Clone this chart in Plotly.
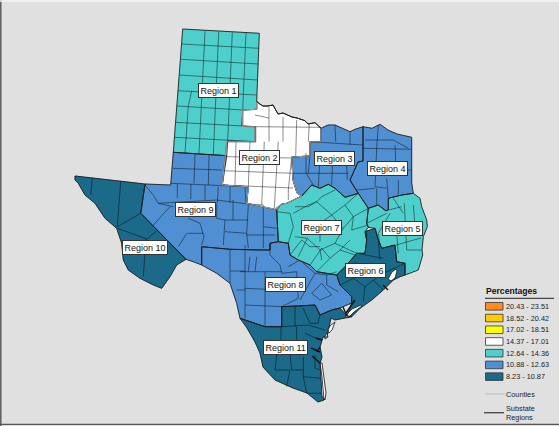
import plotly.graph_objects as go

# ---------- data ----------
CLASS_LABELS = ["20.43 - 23.51", "18.52 - 20.42", "17.02 - 18.51", "14.37 - 17.01",
                "12.64 - 14.36", "10.88 - 12.63", "8.23 - 10.87"]
CLASS_COLORS = ["#FF8C1E", "#FFCC00", "#FFFF00", "#FFFFFF", "#4FCFCB", "#508FD2", "#1B6A8A"]
REGION_NAMES = ["Region %d" % i for i in range(1, 12)]
REGION_CLASS = [4, 3, 5, 5, 4, 6, 4, 5, 5, 6, 6]
LABEL_X = [218, 259, 334, 387, 402, 365, 321, 285, 195, 144.5, 285]
LABEL_Y = [90.5, 157, 158.5, 168, 228, 270.5, 227, 284.5, 209.5, 247.5, 347.5]

R1 = [(182.7,29),(259.3,33.3),(256.7,101),(256.7,109.3),(242.7,110),(242,126),(255.7,126.7),
      (255.7,141.7),(227.7,141),(226.7,155.7),(173.3,152.3)]
R2 = [(256.7,101),(258.3,103),(263,106),(268,106),(273,105),(278,114),(283,113),(292,117),(297,118),
      (305,120.7),(308,124),(315,122.7),(321,128.3),(321,141.7),(310,141.7),(310,156),(291.7,157),(292.7,173),
      (293,180),(297,193),(301.7,196),(286.7,203.3),(281.7,204),(275,209.3),(263.3,206.7),(246.7,203.3),
      (248.3,186.7),(222.3,185),(226.7,141.7),(255,141.7),(255,126.7),(242.7,126.5),(242.7,110),(256.7,109.3)]
R3 = [(321,128.3),(328,125),(335,125),(342,128),(350,131.7),(355,129.3),(363,126.7),(363,161),(358,162),
      (350,180),(356,190),(358.3,193.3),(345,197.3),(335,188.3),(328.3,184.3),(320,188.3),(311.7,185),(301.7,196),
      (297,193),(293,180),(292.7,173),(291.7,157),(310,156),(310,141.7),(321,141.7)]
R4 = [(363,126.7),(372,128.3),(380,124.3),(388,130),(397,134),(411.7,137.3),(411.7,183),(413.3,193.3),
      (401.7,195),(388.3,198.3),(388.3,210),(385.7,210.7),(378.3,205),(368.3,208.3),(358.3,193.3),(356,190),
      (350,180),(358,162),(363,161)]
R5 = [(388.3,198.3),(401.7,195),(413.3,193.3),(420,198.3),(421.7,206.7),(426.7,220),(427.3,226.7),(423.3,236.7),
      (422,250),(422.7,255),(418.3,270),(405,275),(405,263.3),(396.7,261.7),(395,245),(381.7,248.3),(378.3,240),
      (375,228.3),(368.3,227.3),(366.7,223.3),(368.3,208.3),(378.3,205),(385.7,210.7),(388.3,210)]
R6 = [(365,231.7),(375,228.3),(378.3,240),(381.7,248.3),(395,245),(396.7,261.7),(405,263.3),(405,275),(400,276.7),
      (393.3,280),(383.3,290),(371.7,300),(360,308.3),(351.7,316.7),(347,316),(351.7,303),(351.7,296.7),(340,285),
      (336.7,275),(346.7,265),(356.7,253.3),(365,253.3),(366.7,240)]
R7 = [(276.7,210),(281.7,204),(286.7,203.3),(301.7,196),(311.7,185),(320,188.3),(328.3,184.3),(335,188.3),(345,197.3),
      (358.3,193.3),(368.3,208.3),(366.7,223.3),(368.3,227.3),(365,231.7),(366.7,240),(365,253.3),(356.7,253.3),
      (346.7,265),(336.7,275),(326.7,273.3),(316.7,271.7),(310,265),(298.3,260),(290,255),(288.3,243.3),(278.3,241.7)]
R8 = [(201.7,246.7),(230,249.3),(256.7,250),(270,250),(270,243.3),(278.3,241.7),(288.3,243.3),(290,255),(298.3,260),
      (310,265),(316.7,271.7),(326.7,273.3),(336.7,275),(340,285),(351.7,296.7),(351.7,303),(340,308),(331.7,310),
      (320,315),(315,305),(300,306),(281.7,306.7),(281.7,326.7),(265,326.7),(240,318.3),(236.7,303.3),(230,283.3),
      (216.7,273.3),(201.7,265)]
R9 = [(173.3,152.3),(226.7,155.7),(222.3,185),(248.3,186.7),(246.7,203.3),(263.3,206.7),(275,209.3),(276.7,210),
      (278.3,241.7),(270,243.3),(270,250),(256.7,250),(230,249.3),(201.7,246.7),(201.7,265),(194,262),(186,259.3),
      (140.7,213.3),(145,184),(170.7,185)]
R10 = [(75,176),(145,184),(140.7,213.3),(186,259.3),(176.7,265),(170,276.7),(161.7,288.3),(153.3,285),(140,278.3),
       (128.3,270),(123.3,260),(121.7,243.3),(116.7,228.3),(105,218.3),(95,203.3),(85,195),(78.3,183.3),(75,180)]
R11 = [(281.7,326.7),(281.7,306.7),(300,306),(315,305),(320,315),(331.7,310),(340,308),(347,316),(351.7,316.7),
       (338,319),(335,320),(331,318),(328,330),(327,337),(323,337),(320,347),(322,357),(320,363),(322,377),(323.3,390),
       (324,400),(318,402),(307,393),(293,388),(275,380),(263,367),(260,353),(255,342),(247,328),(240,318.3),(265,326.7)]
REGIONS = [R1, R2, R3, R4, R5, R6, R7, R8, R9, R10, R11]

BAY_GALVESTON = [(388,279),(392,272),(396,269),(397,271),(395,278),(391,281)]
BAY_MATAGORDA = [(345,316),(352,309),(361,305),(362,306),(354,312),(348,318)]
BAY_ARANSAS = [(327,330),(331,325),(335,322),(332,330),(329,333)]
BAY_COPANO = [(325,336),(327,333),(328,337),(325,339)]
BAY_MADRE = [(320,363),(322,363),(324,378),(326,393),(325,400),(322,396),(321,378)]
BAYS = [BAY_GALVESTON, BAY_MATAGORDA, BAY_ARANSAS, BAY_COPANO, BAY_MADRE]
BAY_INLETS = [[(343,307),(347,316)],[(346,313),(355,300)],[(317,352),(320,347)],[(311,348),(320,352)],
              [(388,290),(383,285)],[(322,340),(316,338)],[(320,363),(312,356)]]

COUNTY_PANHANDLE = [
    [(182,44),(259,48.3)],[(180.7,59.3),(258.3,64)],[(179.3,75),(257.7,80)],[(178,90.7),(256.7,95)],
    [(177,106),(242.7,110)],[(175.7,122.3),(255.7,126.7)],[(174.3,137.3),(255.7,141.7)],
    [(205,31),(199,153.3)],[(218.7,31.7),(213.3,154.5)],[(232.3,32.3),(227.7,141)],[(246,33),(242,126)],
    [(191.7,90.7),(188.3,106),(185,152.7)]]
COUNTY_NORTH = [
    [(255,115),(269,118),(269,107)],[(269,118),(269,141.7)],[(283,117),(283,141.7)],[(296.7,120),(295.7,156.7)],
    [(309.3,124),(308.3,141.7)],[(255,126.7),(321,127.3)],[(226.7,156.7),(291.7,158)],[(223,170.7),(292.7,173.3)],
    [(222.3,185),(293,188)],[(236,141.7),(235,185)],[(250,141.7),(248.3,186.7)],[(264.3,141.7),(261.7,205)],
    [(278.3,141.7),(274.3,208)],[(291.7,157),(288.3,190),(288.3,200)],
    # Region 3
    [(335,125),(335.7,141.7)],[(350,131.7),(350,145)],[(310,141.7),(363,145)],[(310,156),(308.3,173.3)],
    [(306,153),(306,173)],[(292.7,173.3),(348.3,173.3)],[(320,158),(318.3,186.7)],[(332.7,160),(331.7,185)],
    [(346.7,163),(347.3,180)],[(306,173),(313.3,185)],
    # Region 4
    [(378.3,125),(376.7,148.3)],[(365,140),(393.3,140),(408.3,148.3)],[(363,148.3),(411.7,149.3)],
    [(395,145),(396,170)],[(376.7,148.3),(375,186.7)],[(375,186.7),(386.7,188.3)],[(356.7,190),(375,188.3)],
    [(376.7,188.3),(376.7,205)],[(386.7,178.3),(388.3,198.3)],[(398.3,180),(398.3,195)],[(411.7,170),(396.7,170)],
    # Region 5
    [(388.3,210),(401.7,206.7)],[(393.3,198.3),(403.3,213.3)],[(404.3,203.3),(406.7,250)],[(413.3,205),(415,226.7)],
    [(390,213.3),(378.3,233.3)],[(378.3,233.3),(380,245)],[(396.7,233.3),(398.3,253.3)],[(366.7,223.3),(386.7,213.3)],
    [(406.7,250),(421.7,250)],[(396,245),(421,238)],
    # Region 7
    [(276.7,211.7),(290,213.3),(293.3,226.7),(288.3,243.3)],[(295,206.7),(308.3,206.7),(316.7,201.7)],
    [(308.3,205),(316.7,201.7),(331.7,215),(320,223.3)],[(308.3,205),(293.3,213.3)],
    [(316.7,201.7),(321.7,196.7),(335,190)],[(331.7,215),(345,205),(358.3,193.3)],[(345,205),(353.3,216.7),(368.3,208.3)],
    [(331.7,215),(343.3,228.3),(353.3,216.7)],[(353.3,216.7),(351.7,230),(368.3,225)],[(343.3,228.3),(335,243.3),(356.7,253.3)],
    [(320,223.3),(320,241.7)],[(295,236.7),(307.3,238.3),(298.3,256.7)],[(307.3,238.3),(320,250),(335,243.3)],
    [(320,250),(321.7,260)],[(290,255),(301.7,240)],[(301.7,240),(310,246.7),(320,246.7)],[(310,265),(321.7,248.3),(330,258.3),(316.7,271.7)],
    [(330,258.3),(340,250),(350,240)],[(340,250),(355,255)],
    # Region 8 / east of the Region 9 line
    [(245,245),(245,318.3)],[(265,271.7),(265,326.7)],[(240,271.7),(281.7,271.7)],[(256.7,256.7),(255,271.7)],
    [(250,256.7),(248.3,271.7)],[(270,243.3),(270,255),(280,265),(281.7,273.3)],[(288.3,266.7),(300,260)],
    [(281.7,273.3),(296.7,271.7),(298.3,298.3)],[(303.3,263.3),(315,273.3),(300,300)],[(315,273.3),(326.7,275),(336.7,271.7)],
    [(326.7,275),(326.7,285),(338.3,291.7)],[(311.7,293.3),(321.7,283.3),(331.7,295),(320,300),(311.7,293.3)],
    [(245,288.3),(281.7,290)],[(245,305),(281.7,306.7)],[(298.3,298.3),(281.7,306.7)],[(230,250),(230,283.3)],
    [(230,271),(245,271)],[(245,290),(236.7,290)]]
COUNTY_WEST = [
    [(195,153.5),(194,183.3)],[(209,155),(208.3,185)],[(173,168.3),(221.7,170)],[(170.7,183.3),(246,186.7)],
    [(177.3,184),(177.3,198)],[(191,184),(190.7,199.3)],[(205,185),(205,200)],[(218.3,186.7),(217.3,203)],
    [(230,186.7),(230,203)],[(245,186.7),(246,203)],
    [(145,185),(153.3,195),(158.3,203.3),(173.3,206.7)],[(158.3,203.3),(216.7,200),(245,203.7),(263.3,205)],
    [(170,206.7),(153.3,225)],[(188.3,218.3),(200,223.3),(204,236.7),(201.7,245)],[(187.3,233.3),(203.3,233.3)],
    [(186.7,233.3),(178.3,246.7)],[(216.7,203.3),(216.7,218.3),(225,220),(223.3,245)],[(225,231.7),(246.7,233.3),(248.3,248)],
    [(225,220),(248.3,220)],[(233,200),(233,220)],[(248.3,205),(246.7,233.3)],[(263.3,205),(263.3,248)],[(263.3,226.7),(277,228.3)],
    [(246.7,235),(275,235)],
    # Region 10
    [(92.3,178.3),(90.7,195)],[(120.7,181.7),(117.3,226.7)],[(117.3,226.7),(140.7,213.3)],[(117.3,228.3),(146.7,239),(156.7,231)],
    [(146,239),(143.3,276.7)],
    # Region 11
    [(295,306),(295,326.7)],[(303,308),(310,323.3),(318,323.3),(320,315)],[(281.7,326.7),(308.3,325)],[(308.3,325),(325,330)],
    [(296.7,326.7),(296.7,351.7)],[(305,333.3),(320,340)],[(281,326.7),(280.7,351.7)],[(276.7,355),(275,370),(290,370),(286.7,386.7)],
    [(290,355),(291.7,370),(303.3,370),(303.3,376.7),(306.7,393.3)],[(303.3,356.7),(303.3,370)],[(303.3,376.7),(321.7,378.3)],
    [(306.7,393.3),(321.7,393.3)],[(315,355),(315,368),(320,370)],
    # Region 6
    [(366.7,230),(366.7,240)],[(356.7,253.3),(383.3,258.3)],[(378.3,240),(380,260)],[(355,261.7),(355,278.3)],
    [(340,285),(353.3,278.3),(365,286.7),(373.3,280)],[(365,286.7),(363.3,301.7)],[(373.3,280),(383.3,290)],
    [(383.3,273.3),(373.3,280)],[(383.3,273.3),(405,263.3)]]
LEGEND_TITLE = "Percentages"
LEGEND_COUNTIES = "Counties"
LEGEND_REGIONS = "Substate<br>Regions"

def xs(pts, close=True):
    p = list(pts) + ([pts[0]] if close else [])
    return [a for a, _ in p], [b for _, b in p]

FONT = "Liberation Sans, Arial, sans-serif"
fig = go.Figure()

for name, poly, cls in zip(REGION_NAMES, REGIONS, REGION_CLASS):
    x, y = xs(poly)
    fig.add_trace(go.Scatter(x=x, y=y, mode="lines", fill="toself", fillcolor=CLASS_COLORS[cls],
                             line=dict(color=CLASS_COLORS[cls], width=0.5), name=name,
                             hoverinfo="skip", showlegend=False))

def add_lines(groups, color, width):
    xv, yv = [], []
    for g in groups:
        a, b = xs(g, close=False)
        xv += a + [None]
        yv += b + [None]
    fig.add_trace(go.Scatter(x=xv, y=yv, mode="lines", line=dict(color=color, width=width),
                             hoverinfo="skip", showlegend=False))

add_lines(COUNTY_PANHANDLE + COUNTY_NORTH + COUNTY_WEST, "rgba(0,0,0,0.5)", 0.9)

for bay in BAYS:
    x, y = xs(bay)
    fig.add_trace(go.Scatter(x=x, y=y, mode="lines", fill="toself", fillcolor="#FFFFFF",
                             line=dict(color="#111111", width=0.8), hoverinfo="skip", showlegend=False))
add_lines(BAY_INLETS, "#111111", 1.4)

for poly in REGIONS:
    x, y = xs(poly)
    fig.add_trace(go.Scatter(x=x, y=y, mode="lines", line=dict(color="#1A1A1A", width=0.85),
                             hoverinfo="skip", showlegend=False))
# the white region's inland edge reads as a soft grey line in the reference
add_lines([R2[12:] + R2[:1]], "#9A9A9A", 1.1)
add_lines([R2[:13]], "#1A1A1A", 1.0)

annotations = []
for name, lx, ly in zip(REGION_NAMES, LABEL_X, LABEL_Y):
    annotations.append(dict(x=lx, y=ly, xref="x", yref="y", text=name, showarrow=False,
                            font=dict(family=FONT, size=9, color="#111111"),
                            bgcolor="#FFFFFF", bordercolor="#333333", borderwidth=1, borderpad=1.5))

shapes = []
# frame
shapes.append(dict(type="line", x0=0.8, x1=0.8, y0=0, y1=426, xref="x", yref="y", line=dict(color="#555555", width=1.4)))
shapes.append(dict(type="line", x0=0, x1=559, y0=1, y1=1, xref="x", yref="y", line=dict(color="#F4F4F4", width=1.5)))
shapes.append(dict(type="line", x0=0, x1=559, y0=424.3, y1=424.3, xref="x", yref="y", line=dict(color="#555555", width=1.2)))
# legend
shapes.append(dict(type="line", x0=485, x1=554, y0=298.3, y1=298.3, xref="x", yref="y",
                   line=dict(color="#222222", width=1)))
annotations.append(dict(x=484, y=290.7, xref="x", yref="y", text="<b>%s</b>" % LEGEND_TITLE, showarrow=False,
                        xanchor="left", font=dict(family=FONT, size=8.6, color="#111111")))
for i, (lab, col) in enumerate(zip(CLASS_LABELS, CLASS_COLORS)):
    cy = 306.3 + i * 11.72
    shapes.append(dict(type="rect", x0=485.5, x1=503, y0=cy - 3.8, y1=cy + 3.8, xref="x", yref="y",
                       fillcolor=col, line=dict(color="#333333", width=0.8)))
    annotations.append(dict(x=504, y=cy, xref="x", yref="y", text=lab, showarrow=False, xanchor="left",
                            font=dict(family=FONT, size=7.3, color="#222222")))
shapes.append(dict(type="line", x0=485, x1=505, y0=394, y1=394, xref="x", yref="y",
                   line=dict(color="#BBBBBB", width=1)))
shapes.append(dict(type="line", x0=484, x1=504, y0=412.7, y1=412.7, xref="x", yref="y",
                   line=dict(color="#444444", width=1.3)))
annotations.append(dict(x=504, y=394, xref="x", yref="y", text=LEGEND_COUNTIES, showarrow=False, xanchor="left",
                        font=dict(family=FONT, size=7.3, color="#222222")))
annotations.append(dict(x=504, y=413, xref="x", yref="y", text=LEGEND_REGIONS, showarrow=False, xanchor="left",
                        align="left", font=dict(family=FONT, size=7.3, color="#222222")))

fig.update_layout(width=559, height=426, margin=dict(l=0, r=0, t=0, b=0), autosize=False,
                  paper_bgcolor="#E0E0E0", plot_bgcolor="#E0E0E0", showlegend=False,
                  xaxis=dict(range=[0, 559], visible=False, fixedrange=True),
                  yaxis=dict(range=[426, 0], visible=False, fixedrange=True),
                  annotations=annotations, shapes=shapes)
fig.write_html("out.html", config=dict(displayModeBar=False),
               post_script="document.body.style.margin='0';document.body.style.overflow='hidden';")
